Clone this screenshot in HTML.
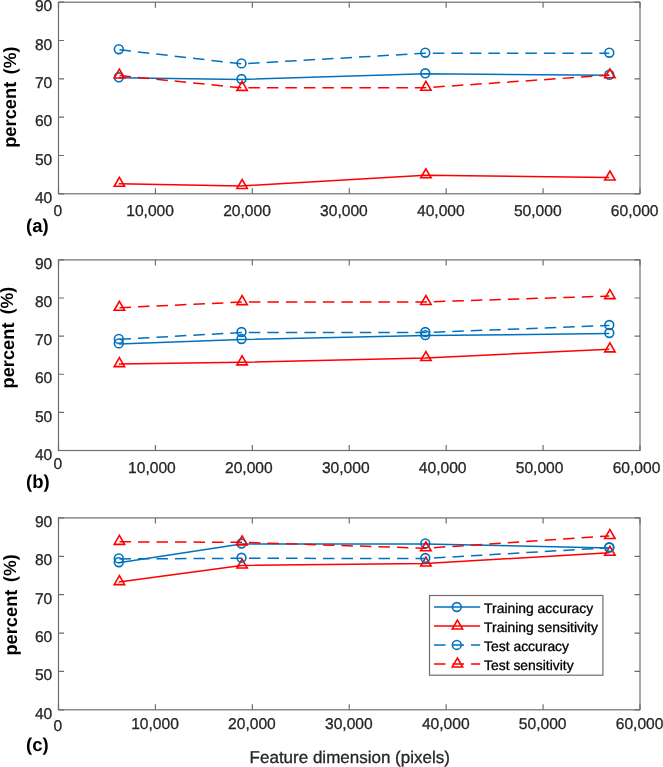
<!DOCTYPE html>
<html><head><meta charset="utf-8"><title>Chart</title>
<style>html,body{margin:0;padding:0;background:#fff;}body{width:663px;height:767px;overflow:hidden;}svg{display:block;will-change:transform;text-rendering:geometricPrecision;font-family:"Liberation Sans",sans-serif;}</style>
</head><body>
<svg width="663" height="767" viewBox="0 0 663 767">
<rect x="0" y="0" width="663" height="767" fill="#fff"/>
<rect x="58.50" y="2.20" width="581.50" height="191.60" fill="none" stroke="#6e6e6e" stroke-width="1.20"/>
<path d="M58.50 193.80H64.00M640.00 193.80H634.50" stroke="#6e6e6e" stroke-width="1.20"/>
<text x="52.30" y="203.00" font-size="15.60" fill="#262626" text-anchor="end" stroke="#262626" stroke-width="0.30">40</text>
<path d="M58.50 155.48H64.00M640.00 155.48H634.50" stroke="#6e6e6e" stroke-width="1.20"/>
<text x="52.30" y="164.68" font-size="15.60" fill="#262626" text-anchor="end" stroke="#262626" stroke-width="0.30">50</text>
<path d="M58.50 117.16H64.00M640.00 117.16H634.50" stroke="#6e6e6e" stroke-width="1.20"/>
<text x="52.30" y="126.36" font-size="15.60" fill="#262626" text-anchor="end" stroke="#262626" stroke-width="0.30">60</text>
<path d="M58.50 78.84H64.00M640.00 78.84H634.50" stroke="#6e6e6e" stroke-width="1.20"/>
<text x="52.30" y="88.04" font-size="15.60" fill="#262626" text-anchor="end" stroke="#262626" stroke-width="0.30">70</text>
<path d="M58.50 40.52H64.00M640.00 40.52H634.50" stroke="#6e6e6e" stroke-width="1.20"/>
<text x="52.30" y="49.72" font-size="15.60" fill="#262626" text-anchor="end" stroke="#262626" stroke-width="0.30">80</text>
<path d="M58.50 2.20H64.00M640.00 2.20H634.50" stroke="#6e6e6e" stroke-width="1.20"/>
<text x="52.30" y="11.40" font-size="15.60" fill="#262626" text-anchor="end" stroke="#262626" stroke-width="0.30">90</text>
<path d="M58.50 193.80V188.30M58.50 2.20V7.70" stroke="#6e6e6e" stroke-width="1.20"/>
<text x="57.90" y="216.10" font-size="15.60" fill="#262626" text-anchor="middle" stroke="#262626" stroke-width="0.30">0</text>
<path d="M155.42 193.80V188.30M155.42 2.20V7.70" stroke="#6e6e6e" stroke-width="1.20"/>
<text x="150.12" y="215.90" font-size="15.60" fill="#262626" text-anchor="middle" stroke="#262626" stroke-width="0.30">10,000</text>
<path d="M252.33 193.80V188.30M252.33 2.20V7.70" stroke="#6e6e6e" stroke-width="1.20"/>
<text x="247.03" y="215.90" font-size="15.60" fill="#262626" text-anchor="middle" stroke="#262626" stroke-width="0.30">20,000</text>
<path d="M349.25 193.80V188.30M349.25 2.20V7.70" stroke="#6e6e6e" stroke-width="1.20"/>
<text x="343.95" y="215.90" font-size="15.60" fill="#262626" text-anchor="middle" stroke="#262626" stroke-width="0.30">30,000</text>
<path d="M446.17 193.80V188.30M446.17 2.20V7.70" stroke="#6e6e6e" stroke-width="1.20"/>
<text x="440.87" y="215.90" font-size="15.60" fill="#262626" text-anchor="middle" stroke="#262626" stroke-width="0.30">40,000</text>
<path d="M543.08 193.80V188.30M543.08 2.20V7.70" stroke="#6e6e6e" stroke-width="1.20"/>
<text x="537.78" y="215.90" font-size="15.60" fill="#262626" text-anchor="middle" stroke="#262626" stroke-width="0.30">50,000</text>
<path d="M640.00 193.80V188.30M640.00 2.20V7.70" stroke="#6e6e6e" stroke-width="1.20"/>
<text x="634.70" y="215.90" font-size="15.60" fill="#262626" text-anchor="middle" stroke="#262626" stroke-width="0.30">60,000</text>
<path d="M118.80 77.80L241.50 79.50L425.30 73.80L609.30 75.30" fill="none" stroke="#0072BD" stroke-width="1.50" stroke-linejoin="round"/>
<circle cx="118.80" cy="77.30" r="4.40" fill="none" stroke="#0072BD" stroke-width="1.60"/>
<circle cx="241.50" cy="79.00" r="4.40" fill="none" stroke="#0072BD" stroke-width="1.60"/>
<circle cx="425.30" cy="73.30" r="4.40" fill="none" stroke="#0072BD" stroke-width="1.60"/>
<circle cx="609.30" cy="74.80" r="4.40" fill="none" stroke="#0072BD" stroke-width="1.60"/>
<path d="M118.80 183.70L241.50 185.90L425.30 175.20L609.30 177.40" fill="none" stroke="#FF0000" stroke-width="1.50" stroke-linejoin="round"/>
<path d="M119.40 177.30L124.60 186.25L114.20 186.25Z" fill="none" stroke="#FF0000" stroke-width="1.60" stroke-linejoin="miter"/>
<path d="M242.10 179.50L247.30 188.45L236.90 188.45Z" fill="none" stroke="#FF0000" stroke-width="1.60" stroke-linejoin="miter"/>
<path d="M425.90 168.80L431.10 177.75L420.70 177.75Z" fill="none" stroke="#FF0000" stroke-width="1.60" stroke-linejoin="miter"/>
<path d="M609.90 171.00L615.10 179.95L604.70 179.95Z" fill="none" stroke="#FF0000" stroke-width="1.60" stroke-linejoin="miter"/>
<path d="M118.80 49.70L241.50 63.90L425.30 53.20L609.30 53.20" fill="none" stroke="#0072BD" stroke-width="1.50" stroke-linejoin="round" stroke-dasharray="11.5 7.0" stroke-dashoffset="-0.70"/>
<circle cx="118.80" cy="49.20" r="4.40" fill="none" stroke="#0072BD" stroke-width="1.60"/>
<circle cx="241.50" cy="63.40" r="4.40" fill="none" stroke="#0072BD" stroke-width="1.60"/>
<circle cx="425.30" cy="52.70" r="4.40" fill="none" stroke="#0072BD" stroke-width="1.60"/>
<circle cx="609.30" cy="52.70" r="4.40" fill="none" stroke="#0072BD" stroke-width="1.60"/>
<path d="M118.80 75.50L241.50 87.80L425.30 87.70L609.30 75.20" fill="none" stroke="#FF0000" stroke-width="1.50" stroke-linejoin="round" stroke-dasharray="11.5 7.0" stroke-dashoffset="-0.70"/>
<path d="M119.40 69.10L124.60 78.05L114.20 78.05Z" fill="none" stroke="#FF0000" stroke-width="1.60" stroke-linejoin="miter"/>
<path d="M242.10 81.40L247.30 90.35L236.90 90.35Z" fill="none" stroke="#FF0000" stroke-width="1.60" stroke-linejoin="miter"/>
<path d="M425.90 81.30L431.10 90.25L420.70 90.25Z" fill="none" stroke="#FF0000" stroke-width="1.60" stroke-linejoin="miter"/>
<path d="M609.90 68.80L615.10 77.75L604.70 77.75Z" fill="none" stroke="#FF0000" stroke-width="1.60" stroke-linejoin="miter"/>
<text transform="translate(16.40 147.80) rotate(-90)" font-size="18.30" font-weight="bold" fill="#000">percent</text>
<text transform="translate(15.60 74.20) rotate(-90)" font-size="17.70" font-weight="bold" fill="#000">(%)</text>
<text x="26.00" y="232.10" font-size="18.50" font-weight="bold" fill="#000">(a)</text>
<rect x="58.50" y="259.90" width="581.50" height="190.60" fill="none" stroke="#6e6e6e" stroke-width="1.20"/>
<path d="M58.50 450.50H64.00M640.00 450.50H634.50" stroke="#6e6e6e" stroke-width="1.20"/>
<text x="52.30" y="459.70" font-size="15.60" fill="#262626" text-anchor="end" stroke="#262626" stroke-width="0.30">40</text>
<path d="M58.50 412.38H64.00M640.00 412.38H634.50" stroke="#6e6e6e" stroke-width="1.20"/>
<text x="52.30" y="421.58" font-size="15.60" fill="#262626" text-anchor="end" stroke="#262626" stroke-width="0.30">50</text>
<path d="M58.50 374.26H64.00M640.00 374.26H634.50" stroke="#6e6e6e" stroke-width="1.20"/>
<text x="52.30" y="383.46" font-size="15.60" fill="#262626" text-anchor="end" stroke="#262626" stroke-width="0.30">60</text>
<path d="M58.50 336.14H64.00M640.00 336.14H634.50" stroke="#6e6e6e" stroke-width="1.20"/>
<text x="52.30" y="345.34" font-size="15.60" fill="#262626" text-anchor="end" stroke="#262626" stroke-width="0.30">70</text>
<path d="M58.50 298.02H64.00M640.00 298.02H634.50" stroke="#6e6e6e" stroke-width="1.20"/>
<text x="52.30" y="307.22" font-size="15.60" fill="#262626" text-anchor="end" stroke="#262626" stroke-width="0.30">80</text>
<path d="M58.50 259.90H64.00M640.00 259.90H634.50" stroke="#6e6e6e" stroke-width="1.20"/>
<text x="52.30" y="269.10" font-size="15.60" fill="#262626" text-anchor="end" stroke="#262626" stroke-width="0.30">90</text>
<path d="M58.50 450.50V445.00M58.50 259.90V265.40" stroke="#6e6e6e" stroke-width="1.20"/>
<text x="57.75" y="469.40" font-size="15.60" fill="#262626" text-anchor="middle" stroke="#262626" stroke-width="0.30">0</text>
<path d="M155.42 450.50V445.00M155.42 259.90V265.40" stroke="#6e6e6e" stroke-width="1.20"/>
<text x="151.92" y="473.20" font-size="15.60" fill="#262626" text-anchor="middle" stroke="#262626" stroke-width="0.30">10,000</text>
<path d="M252.33 450.50V445.00M252.33 259.90V265.40" stroke="#6e6e6e" stroke-width="1.20"/>
<text x="248.83" y="473.20" font-size="15.60" fill="#262626" text-anchor="middle" stroke="#262626" stroke-width="0.30">20,000</text>
<path d="M349.25 450.50V445.00M349.25 259.90V265.40" stroke="#6e6e6e" stroke-width="1.20"/>
<text x="345.75" y="473.20" font-size="15.60" fill="#262626" text-anchor="middle" stroke="#262626" stroke-width="0.30">30,000</text>
<path d="M446.17 450.50V445.00M446.17 259.90V265.40" stroke="#6e6e6e" stroke-width="1.20"/>
<text x="442.67" y="473.20" font-size="15.60" fill="#262626" text-anchor="middle" stroke="#262626" stroke-width="0.30">40,000</text>
<path d="M543.08 450.50V445.00M543.08 259.90V265.40" stroke="#6e6e6e" stroke-width="1.20"/>
<text x="539.58" y="473.20" font-size="15.60" fill="#262626" text-anchor="middle" stroke="#262626" stroke-width="0.30">50,000</text>
<path d="M640.00 450.50V445.00M640.00 259.90V265.40" stroke="#6e6e6e" stroke-width="1.20"/>
<text x="636.50" y="473.20" font-size="15.60" fill="#262626" text-anchor="middle" stroke="#262626" stroke-width="0.30">60,000</text>
<path d="M118.80 343.90L241.50 339.50L425.30 335.60L609.30 333.50" fill="none" stroke="#0072BD" stroke-width="1.50" stroke-linejoin="round"/>
<circle cx="118.80" cy="343.40" r="4.40" fill="none" stroke="#0072BD" stroke-width="1.60"/>
<circle cx="241.50" cy="339.00" r="4.40" fill="none" stroke="#0072BD" stroke-width="1.60"/>
<circle cx="425.30" cy="335.10" r="4.40" fill="none" stroke="#0072BD" stroke-width="1.60"/>
<circle cx="609.30" cy="333.00" r="4.40" fill="none" stroke="#0072BD" stroke-width="1.60"/>
<path d="M118.80 364.10L241.50 362.30L425.30 358.00L609.30 349.30" fill="none" stroke="#FF0000" stroke-width="1.50" stroke-linejoin="round"/>
<path d="M119.40 357.70L124.60 366.65L114.20 366.65Z" fill="none" stroke="#FF0000" stroke-width="1.60" stroke-linejoin="miter"/>
<path d="M242.10 355.90L247.30 364.85L236.90 364.85Z" fill="none" stroke="#FF0000" stroke-width="1.60" stroke-linejoin="miter"/>
<path d="M425.90 351.60L431.10 360.55L420.70 360.55Z" fill="none" stroke="#FF0000" stroke-width="1.60" stroke-linejoin="miter"/>
<path d="M609.90 342.90L615.10 351.85L604.70 351.85Z" fill="none" stroke="#FF0000" stroke-width="1.60" stroke-linejoin="miter"/>
<path d="M118.80 339.40L241.50 332.50L425.30 332.50L609.30 325.50" fill="none" stroke="#0072BD" stroke-width="1.50" stroke-linejoin="round" stroke-dasharray="11.5 7.0" stroke-dashoffset="-0.70"/>
<circle cx="118.80" cy="338.90" r="4.40" fill="none" stroke="#0072BD" stroke-width="1.60"/>
<circle cx="241.50" cy="332.00" r="4.40" fill="none" stroke="#0072BD" stroke-width="1.60"/>
<circle cx="425.30" cy="332.00" r="4.40" fill="none" stroke="#0072BD" stroke-width="1.60"/>
<circle cx="609.30" cy="325.00" r="4.40" fill="none" stroke="#0072BD" stroke-width="1.60"/>
<path d="M118.80 307.70L241.50 302.10L425.30 301.90L609.30 296.10" fill="none" stroke="#FF0000" stroke-width="1.50" stroke-linejoin="round" stroke-dasharray="11.5 7.0" stroke-dashoffset="-0.70"/>
<path d="M119.40 301.30L124.60 310.25L114.20 310.25Z" fill="none" stroke="#FF0000" stroke-width="1.60" stroke-linejoin="miter"/>
<path d="M242.10 295.70L247.30 304.65L236.90 304.65Z" fill="none" stroke="#FF0000" stroke-width="1.60" stroke-linejoin="miter"/>
<path d="M425.90 295.50L431.10 304.45L420.70 304.45Z" fill="none" stroke="#FF0000" stroke-width="1.60" stroke-linejoin="miter"/>
<path d="M609.90 289.70L615.10 298.65L604.70 298.65Z" fill="none" stroke="#FF0000" stroke-width="1.60" stroke-linejoin="miter"/>
<text transform="translate(14.10 388.50) rotate(-90)" font-size="18.30" font-weight="bold" fill="#000">percent</text>
<text transform="translate(13.30 314.30) rotate(-90)" font-size="17.70" font-weight="bold" fill="#000">(%)</text>
<text x="26.00" y="488.10" font-size="18.50" font-weight="bold" fill="#000">(b)</text>
<rect x="58.50" y="517.90" width="581.50" height="191.90" fill="none" stroke="#6e6e6e" stroke-width="1.20"/>
<path d="M58.50 709.80H64.00M640.00 709.80H634.50" stroke="#6e6e6e" stroke-width="1.20"/>
<text x="52.30" y="718.80" font-size="15.60" fill="#262626" text-anchor="end" stroke="#262626" stroke-width="0.30">40</text>
<path d="M58.50 671.42H64.00M640.00 671.42H634.50" stroke="#6e6e6e" stroke-width="1.20"/>
<text x="52.30" y="680.42" font-size="15.60" fill="#262626" text-anchor="end" stroke="#262626" stroke-width="0.30">50</text>
<path d="M58.50 633.04H64.00M640.00 633.04H634.50" stroke="#6e6e6e" stroke-width="1.20"/>
<text x="52.30" y="642.04" font-size="15.60" fill="#262626" text-anchor="end" stroke="#262626" stroke-width="0.30">60</text>
<path d="M58.50 594.66H64.00M640.00 594.66H634.50" stroke="#6e6e6e" stroke-width="1.20"/>
<text x="52.30" y="603.66" font-size="15.60" fill="#262626" text-anchor="end" stroke="#262626" stroke-width="0.30">70</text>
<path d="M58.50 556.28H64.00M640.00 556.28H634.50" stroke="#6e6e6e" stroke-width="1.20"/>
<text x="52.30" y="565.28" font-size="15.60" fill="#262626" text-anchor="end" stroke="#262626" stroke-width="0.30">80</text>
<path d="M58.50 517.90H64.00M640.00 517.90H634.50" stroke="#6e6e6e" stroke-width="1.20"/>
<text x="52.30" y="526.90" font-size="15.60" fill="#262626" text-anchor="end" stroke="#262626" stroke-width="0.30">90</text>
<path d="M58.50 709.80V704.30M58.50 517.90V523.40" stroke="#6e6e6e" stroke-width="1.20"/>
<text x="57.90" y="730.80" font-size="15.60" fill="#262626" text-anchor="middle" stroke="#262626" stroke-width="0.30">0</text>
<path d="M155.42 709.80V704.30M155.42 517.90V523.40" stroke="#6e6e6e" stroke-width="1.20"/>
<text x="155.02" y="729.30" font-size="15.60" fill="#262626" text-anchor="middle" stroke="#262626" stroke-width="0.30">10,000</text>
<path d="M252.33 709.80V704.30M252.33 517.90V523.40" stroke="#6e6e6e" stroke-width="1.20"/>
<text x="251.93" y="729.30" font-size="15.60" fill="#262626" text-anchor="middle" stroke="#262626" stroke-width="0.30">20,000</text>
<path d="M349.25 709.80V704.30M349.25 517.90V523.40" stroke="#6e6e6e" stroke-width="1.20"/>
<text x="348.85" y="729.30" font-size="15.60" fill="#262626" text-anchor="middle" stroke="#262626" stroke-width="0.30">30,000</text>
<path d="M446.17 709.80V704.30M446.17 517.90V523.40" stroke="#6e6e6e" stroke-width="1.20"/>
<text x="445.77" y="729.30" font-size="15.60" fill="#262626" text-anchor="middle" stroke="#262626" stroke-width="0.30">40,000</text>
<path d="M543.08 709.80V704.30M543.08 517.90V523.40" stroke="#6e6e6e" stroke-width="1.20"/>
<text x="542.68" y="729.30" font-size="15.60" fill="#262626" text-anchor="middle" stroke="#262626" stroke-width="0.30">50,000</text>
<path d="M640.00 709.80V704.30M640.00 517.90V523.40" stroke="#6e6e6e" stroke-width="1.20"/>
<text x="639.60" y="729.30" font-size="15.60" fill="#262626" text-anchor="middle" stroke="#262626" stroke-width="0.30">60,000</text>
<path d="M118.80 562.70L241.50 544.00L425.30 543.90L609.30 548.10" fill="none" stroke="#0072BD" stroke-width="1.50" stroke-linejoin="round"/>
<circle cx="118.80" cy="562.20" r="4.40" fill="none" stroke="#0072BD" stroke-width="1.60"/>
<circle cx="241.50" cy="543.50" r="4.40" fill="none" stroke="#0072BD" stroke-width="1.60"/>
<circle cx="425.30" cy="543.40" r="4.40" fill="none" stroke="#0072BD" stroke-width="1.60"/>
<circle cx="609.30" cy="547.60" r="4.40" fill="none" stroke="#0072BD" stroke-width="1.60"/>
<path d="M118.80 582.10L241.50 565.50L425.30 563.50L609.30 552.70" fill="none" stroke="#FF0000" stroke-width="1.50" stroke-linejoin="round"/>
<path d="M119.40 575.70L124.60 584.65L114.20 584.65Z" fill="none" stroke="#FF0000" stroke-width="1.60" stroke-linejoin="miter"/>
<path d="M242.10 559.10L247.30 568.05L236.90 568.05Z" fill="none" stroke="#FF0000" stroke-width="1.60" stroke-linejoin="miter"/>
<path d="M425.90 557.10L431.10 566.05L420.70 566.05Z" fill="none" stroke="#FF0000" stroke-width="1.60" stroke-linejoin="miter"/>
<path d="M609.90 546.30L615.10 555.25L604.70 555.25Z" fill="none" stroke="#FF0000" stroke-width="1.60" stroke-linejoin="miter"/>
<path d="M118.80 558.90L241.50 558.30L425.30 558.50L609.30 547.70" fill="none" stroke="#0072BD" stroke-width="1.50" stroke-linejoin="round" stroke-dasharray="11.5 7.0" stroke-dashoffset="-0.70"/>
<circle cx="118.80" cy="558.40" r="4.40" fill="none" stroke="#0072BD" stroke-width="1.60"/>
<circle cx="241.50" cy="557.80" r="4.40" fill="none" stroke="#0072BD" stroke-width="1.60"/>
<circle cx="425.30" cy="558.00" r="4.40" fill="none" stroke="#0072BD" stroke-width="1.60"/>
<circle cx="609.30" cy="547.20" r="4.40" fill="none" stroke="#0072BD" stroke-width="1.60"/>
<path d="M118.80 541.80L241.50 542.30L425.30 548.20L609.30 536.00" fill="none" stroke="#FF0000" stroke-width="1.50" stroke-linejoin="round" stroke-dasharray="11.5 7.0" stroke-dashoffset="-0.70"/>
<path d="M119.40 535.40L124.60 544.35L114.20 544.35Z" fill="none" stroke="#FF0000" stroke-width="1.60" stroke-linejoin="miter"/>
<path d="M242.10 535.90L247.30 544.85L236.90 544.85Z" fill="none" stroke="#FF0000" stroke-width="1.60" stroke-linejoin="miter"/>
<path d="M425.90 541.80L431.10 550.75L420.70 550.75Z" fill="none" stroke="#FF0000" stroke-width="1.60" stroke-linejoin="miter"/>
<path d="M609.90 529.60L615.10 538.55L604.70 538.55Z" fill="none" stroke="#FF0000" stroke-width="1.60" stroke-linejoin="miter"/>
<text transform="translate(16.80 655.60) rotate(-90)" font-size="18.30" font-weight="bold" fill="#000">percent</text>
<text transform="translate(16.00 581.90) rotate(-90)" font-size="17.70" font-weight="bold" fill="#000">(%)</text>
<text x="26.00" y="751.20" font-size="18.50" font-weight="bold" fill="#000">(c)</text>
<rect x="429.50" y="595.50" width="173.40" height="79.70" fill="#fff" stroke="#6e6e6e" stroke-width="1.20"/>
<path d="M434.00 607.00L480.10 607.00" fill="none" stroke="#0072BD" stroke-width="1.50" stroke-linejoin="round"/>
<circle cx="456.80" cy="607.00" r="4.40" fill="none" stroke="#0072BD" stroke-width="1.60"/>
<text x="484.10" y="612.70" font-size="13.90" fill="#000" stroke="#000" stroke-width="0.30">Training accuracy</text>
<path d="M434.00 625.97L480.10 625.97" fill="none" stroke="#FF0000" stroke-width="1.50" stroke-linejoin="round"/>
<path d="M457.40 620.07L462.60 629.02L452.20 629.02Z" fill="none" stroke="#FF0000" stroke-width="1.60" stroke-linejoin="miter"/>
<text x="484.10" y="631.67" font-size="13.90" fill="#000" stroke="#000" stroke-width="0.30">Training sensitivity</text>
<path d="M434.00 644.94L480.10 644.94" fill="none" stroke="#0072BD" stroke-width="1.50" stroke-linejoin="round" stroke-dasharray="11.5 7.0" stroke-dashoffset="0.00"/>
<circle cx="456.80" cy="644.94" r="4.40" fill="none" stroke="#0072BD" stroke-width="1.60"/>
<text x="484.10" y="650.64" font-size="13.90" fill="#000" stroke="#000" stroke-width="0.30">Test accuracy</text>
<path d="M434.00 663.91L480.10 663.91" fill="none" stroke="#FF0000" stroke-width="1.50" stroke-linejoin="round" stroke-dasharray="11.5 7.0" stroke-dashoffset="0.00"/>
<path d="M457.40 658.01L462.60 666.96L452.20 666.96Z" fill="none" stroke="#FF0000" stroke-width="1.60" stroke-linejoin="miter"/>
<text x="484.10" y="669.61" font-size="13.90" fill="#000" stroke="#000" stroke-width="0.30">Test sensitivity</text>
<text x="249.60" y="762.70" font-size="17.00" fill="#262626" stroke="#262626" stroke-width="0.30">Feature dimension (pixels)</text>
</svg></body></html>
